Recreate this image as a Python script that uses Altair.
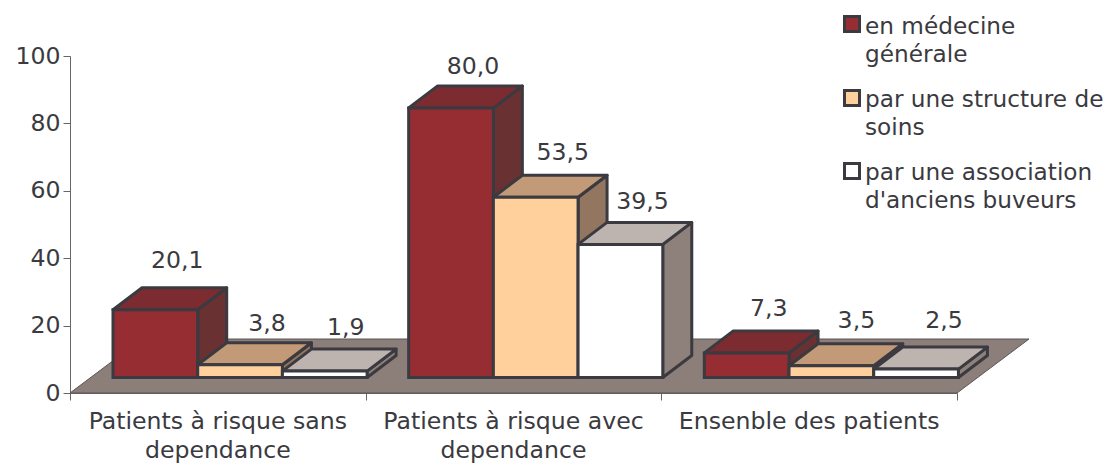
import altair as alt
import pandas as pd

categories = ["Patients à risque sans dependance", "Patients à risque avec dependance", "Ensenble des patients"]
category_lines = [["Patients à risque sans", "dependance"], ["Patients à risque avec", "dependance"], ["Ensenble des patients"]]
series_names = ["en médecine générale", "par une structure de soins", "par une association d'anciens buveurs"]
legend_lines = [["en médecine", "générale"], ["par une structure de", "soins"], ["par une association", "d'anciens buveurs"]]
medecine = [20.1, 80.0, 7.3]
structure = [3.8, 53.5, 3.5]
association = [1.9, 39.5, 2.5]
value_labels = [["20,1", "80,0", "7,3"], ["3,8", "53,5", "3,5"], ["1,9", "39,5", "2,5"]]
front_colors = ["#952D33", "#FFCF9C", "#FFFFFF"]
top_colors = ["#7C2C30", "#C39A78", "#BDB4B0"]
side_colors = ["#6A3133", "#937660", "#8E807B"]
y_ticks = [0, 20, 40, 60, 80, 100]

W, H = 887, 337
PX_X = W / 3
PX_Y = H / 100
INK = "#3A3A40"
FONT = "DejaVu Sans"
FS = 23.6
LEG_FS = 23.2
SW = 3

bar_w = 84.7 / PX_X
group_off = 43 / PX_X
dep_x = 29 / PX_X
dep_y = 22 / PX_Y
base = 15.5 / PX_Y
floor_x = 72 / PX_X
floor_y = 54 / PX_Y

# per-label offsets (px) of the value labels, right of bar centre / above back edge
label_dx = [[22, 22, 22], [27, 27, 25], [21, 22, 28]]
label_dy = [[20, 12, 15], [12, 15, 16], [14, 13, 19]]

series = [medecine, structure, association]
fronts, tops, sides, labels = [], [], [], []
for s, vals in enumerate(series):
    for c, v in enumerate(vals):
        x0 = c + group_off + s * bar_w
        x1 = x0 + bar_w
        bid = f"{c}-{s}"
        top = base + v
        fronts.append(dict(id=bid, s=s, x=x0, x2=x1, y=base, y2=top))
        tops += [
            dict(id=bid, s=s, x=x0, lo=top, hi=top),
            dict(id=bid, s=s, x=x0 + dep_x, lo=top, hi=top + dep_y),
            dict(id=bid, s=s, x=x1, lo=top, hi=top + dep_y),
            dict(id=bid, s=s, x=x1 + dep_x, lo=top + dep_y, hi=top + dep_y),
        ]
        sides += [
            dict(id=bid, s=s, x=x1, lo=base, hi=top),
            dict(id=bid, s=s, x=x1 + dep_x, lo=base + dep_y, hi=top + dep_y),
        ]
        labels.append(dict(
            text=value_labels[s][c],
            x=(x0 + x1) / 2 + label_dx[s][c] / PX_X,
            y=top + dep_y + label_dy[s][c] / PX_Y,
        ))

floor = pd.DataFrame([
    dict(x=0, lo=0, hi=0),
    dict(x=floor_x, lo=0, hi=floor_y),
    dict(x=3, lo=0, hi=floor_y),
    dict(x=3 + floor_x, lo=floor_y, hi=floor_y),
])

xs = alt.Scale(domain=[0, 3], range=[0, W], nice=False)
ys = alt.Scale(domain=[0, 100], range=[H, 0], nice=False)
x_axis = alt.Axis(values=[0, 1, 2, 3], labels=False, grid=False, tickSize=7, tickColor="#666",
                  domainColor="#666", domainWidth=1, title=None)
y_axis = alt.Axis(values=y_ticks, grid=False, tickSize=7, tickColor="#666", domainColor="#666", title=None,
                  labelFont=FONT, labelFontSize=FS, labelColor=INK, labelPadding=3)
X = lambda f="x": alt.X(f"{f}:Q", scale=xs, axis=x_axis)
Y = lambda f="y": alt.Y(f"{f}:Q", scale=ys, axis=y_axis)
FILL = lambda cols: alt.Color("s:N", scale=alt.Scale(domain=[0, 1, 2], range=cols), legend=None)

floor_layer = alt.Chart(floor).mark_area(color="#8C7E79", stroke="#5A5458", strokeWidth=1).encode(
    x=X(), y=Y("lo"), y2="hi:Q")

def face(rows, cols):
    return alt.Chart(pd.DataFrame(rows)).mark_area(stroke=INK, strokeWidth=SW, strokeJoin="round", opacity=1).encode(
        x=X(), y=Y("lo"), y2="hi:Q", detail="id:N", color=FILL(cols))

side_layer = face(sides, side_colors)
top_layer = face(tops, top_colors)
front_layer = alt.Chart(pd.DataFrame(fronts)).mark_rect(stroke=INK, strokeWidth=SW).encode(
    x=X(), x2="x2:Q", y=Y(), y2="y2:Q", color=FILL(front_colors))

value_layer = alt.Chart(pd.DataFrame(labels)).mark_text(
    font=FONT, fontSize=FS, color=INK, align="center", baseline="alphabetic").encode(
    x=X(), y=Y(), text="text:N")

cat_df = pd.DataFrame({"x": [i + 0.5 for i in range(3)], "t": category_lines})
cat_layer = alt.Chart(cat_df).mark_text(
    font=FONT, fontSize=FS, color=INK, align="center", baseline="alphabetic", lineHeight=29).encode(
    x=X(), y=alt.value(H + 36), text="t:N")

leg_layers = []
for s, (lines, text_y, sym_y) in enumerate(zip(legend_lines, [-22, 51, 124], [-32, 42, 115])):
    row = pd.DataFrame([{"t": lines, "s": s}])
    leg_layers.append(alt.Chart(row).mark_square(size=225, opacity=1, stroke=INK, strokeWidth=SW).encode(
        x=alt.value(852 - 70), y=alt.value(sym_y),
        color=alt.value(front_colors[s])))
    leg_layers.append(alt.Chart(row).mark_text(
        font=FONT, fontSize=LEG_FS, color=INK, align="left", baseline="alphabetic", lineHeight=28).encode(
        x=alt.value(865 - 70), y=alt.value(text_y), text="t:N"))

chart = alt.layer(
    floor_layer, side_layer, top_layer, front_layer, value_layer, cat_layer, *leg_layers
).resolve_scale(color="independent").properties(
    width=W, height=H,
    autosize=alt.AutoSizeParams(type="none"),
    padding={"left": 62, "top": 48, "right": 148, "bottom": 70},
    background="white",
).configure_view(stroke=None)

chart.save("out.html", embed_options={"renderer": "svg", "actions": False})
